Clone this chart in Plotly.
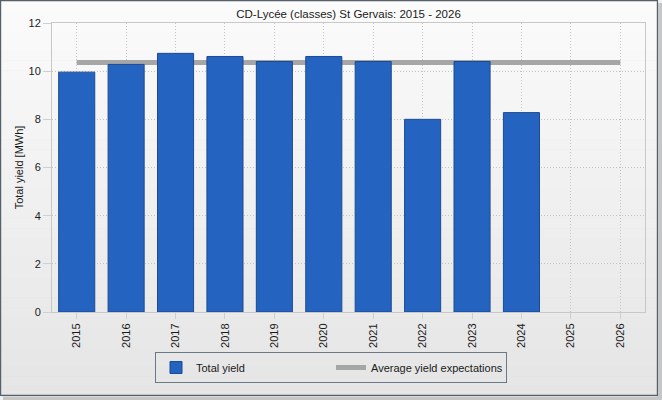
import plotly.graph_objects as go

# data
years = ["2015", "2016", "2017", "2018", "2019", "2020",
         "2021", "2022", "2023", "2024", "2025", "2026"]
total_yield = [9.96, 10.28, 10.74, 10.61, 10.40, 10.61,
               10.40, 8.00, 10.40, 8.28, None, None]
avg_expect = [10.36] * len(years)

W, H = 662, 400
L, R, T, B = 52, 17, 23, 88
pw, ph = W - L - R, H - T - B

FONT = "Liberation Sans"


def px_x(v):
    # pixel -> paper x
    return (v - L) / pw


def px_y(v):
    # pixel (from top) -> paper y
    return (H - B - v) / ph


# panel background: light vertical gradient made from thin bands
shapes = [dict(type="rect", xref="paper", yref="paper", layer="below",
               x0=px_x(3), x1=px_x(W), y0=px_y(H), y1=px_y(3),
               fillcolor="#c6c6c6", line=dict(width=0))]
n_bands = 40
top_c, bot_c = (251, 251, 251), (229, 229, 229)
for i in range(n_bands):
    t = i / (n_bands - 1)
    c = tuple(round(a + (b - a) * t) for a, b in zip(top_c, bot_c))
    y0 = 1 + (H - 5) * i / n_bands
    y1 = 1 + (H - 5) * (i + 1) / n_bands + 0.5
    shapes.append(dict(type="rect", xref="paper", yref="paper", layer="below",
                       x0=px_x(1), x1=px_x(W - 5), y0=px_y(y1), y1=px_y(y0),
                       fillcolor="rgb(%d,%d,%d)" % c, line=dict(width=0)))
shapes.append(dict(type="rect", xref="paper", yref="paper", layer="below",
                   x0=px_x(0.6), x1=px_x(W - 4.6), y0=px_y(H - 4.6), y1=px_y(0.6),
                   fillcolor="rgba(0,0,0,0)", line=dict(color="#56606b", width=1.2)))

fig = go.Figure()

# bars sit on an overlaying axis pair so they are drawn above the average line
fig.add_trace(go.Bar(
    x=years, y=total_yield, name="Total yield",
    xaxis="x2", yaxis="y2",
    marker=dict(color="#2563c0", line=dict(color="#1c4b94", width=1)),
))
fig.add_trace(go.Scatter(
    x=years, y=avg_expect, name="Average yield expectations",
    mode="lines", line=dict(color="#a6a6a6", width=5),
))

fig.update_layout(
    width=W, height=H,
    margin=dict(l=L, r=R, t=T, b=B, autoexpand=False),
    paper_bgcolor="#f0f0f0",
    plot_bgcolor="rgba(0,0,0,0)",
    font=dict(family=FONT, size=11, color="#1a1a1a"),
    bargap=0.27,
    title=dict(text="CD-Lycée (classes) St Gervais: 2015 - 2026",
               x=(L + pw / 2) / W, xanchor="center",
               y=1 - 14 / H, yanchor="middle",
               font=dict(family=FONT, size=11.5, color="#1a1a1a")),
    showlegend=True,
    legend=dict(orientation="h", x=px_x(155), xanchor="left",
                y=px_y(352), yanchor="top", traceorder="normal",
                bgcolor="rgba(0,0,0,0)", bordercolor="#6b7885", borderwidth=1,
                itemwidth=30, entrywidth=130, font=dict(family=FONT, size=11)),
    shapes=shapes,
    xaxis=dict(
        type="category", categoryorder="array", categoryarray=years,
        tickangle=-90,
        showgrid=True, gridcolor="#c4c4c4", griddash="1px,2px", gridwidth=1,
        ticks="outside", ticklen=6, tickcolor="#d0d0d0",
        showline=True, linecolor="#c8c8c8", mirror=True,
        tickfont=dict(size=11),
    ),
    yaxis=dict(
        range=[0, 12], dtick=2,
        showgrid=True, gridcolor="#c4c4c4", griddash="1px,2px", gridwidth=1,
        ticks="outside", ticklen=8, tickcolor="#d0d0d0",
        showline=True, linecolor="#c8c8c8", mirror=True, zeroline=False,
        title=dict(text="Total yield [MWh]", font=dict(size=11), standoff=2),
        tickfont=dict(size=11),
    ),
    xaxis2=dict(
        type="category", categoryorder="array", categoryarray=years,
        overlaying="x", matches="x", visible=False,
    ),
    yaxis2=dict(
        range=[0, 12], overlaying="y", visible=False,
    ),
)

fig.write_html("out.html", config={"displayModeBar": False},
               post_script="document.body.style.margin='0';")
